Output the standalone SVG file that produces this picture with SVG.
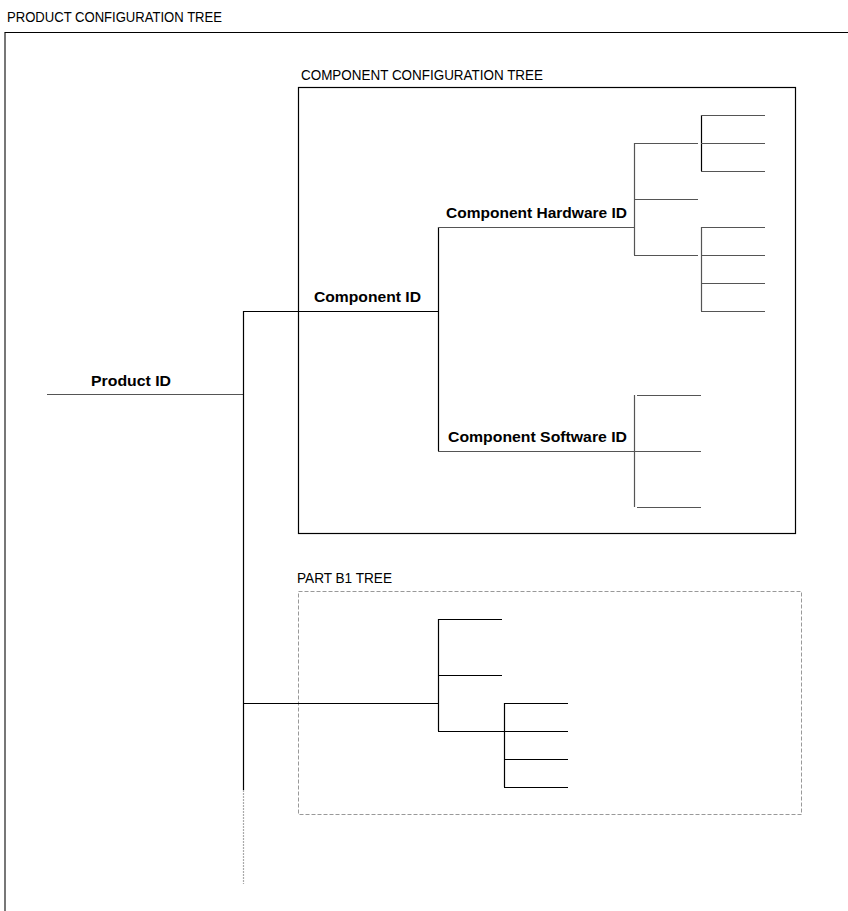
<svg xmlns="http://www.w3.org/2000/svg" width="848" height="911" viewBox="0 0 848 911">
<style>
.title{font-family:"Liberation Sans",Arial,sans-serif;font-size:15.5px;fill:#000}
.lbl{font-family:"Liberation Sans",Arial,sans-serif;font-size:15px;font-weight:bold;fill:#000}
.ln{stroke:#000;stroke-width:1.2;fill:none}
.gl{stroke:#555;stroke-width:1.2;fill:none}
</style>
<rect width="848" height="911" fill="#fff"/>
<g id="product-tree">
<text class="title" x="7" y="22" textLength="215" lengthAdjust="spacingAndGlyphs">PRODUCT CONFIGURATION TREE</text>
<path d="M5 911 V32.5 H848" stroke="#000" stroke-width="1.2" fill="none"/>
<path d="M5 33 V911" stroke="#777" stroke-width="2" fill="none"/>
</g>
<g id="component-tree">
<text class="title" x="301" y="80" textLength="242" lengthAdjust="spacingAndGlyphs">COMPONENT CONFIGURATION TREE</text>
<rect x="298.5" y="87.5" width="497" height="446" fill="none" stroke="#000" stroke-width="1.2"/>
</g>
<g id="partb1-tree">
<text class="title" x="297" y="583" textLength="95" lengthAdjust="spacingAndGlyphs">PART B1 TREE</text>
<rect x="298.5" y="591.5" width="503" height="223" fill="none" stroke="#999" stroke-width="1" stroke-dasharray="4,2"/>
</g>
<g id="product-id"><text class="lbl" x="91" y="386" textLength="80" lengthAdjust="spacingAndGlyphs">Product ID</text></g>
<g id="component-id"><text class="lbl" x="314" y="302" textLength="107" lengthAdjust="spacingAndGlyphs">Component ID</text></g>
<g id="hardware-id"><text class="lbl" x="446" y="218" textLength="181" lengthAdjust="spacingAndGlyphs">Component Hardware ID</text></g>
<g id="software-id"><text class="lbl" x="448" y="442" textLength="179" lengthAdjust="spacingAndGlyphs">Component Software ID</text></g>
<g id="connectors">
<path class="gl" d="M47 394.5 H243"/>
<path class="ln" d="M243.5 311 V790"/>
<path d="M243.5 790 V884" stroke="#aaa" stroke-width="1.2" stroke-dasharray="2,1"/>
<path class="ln" d="M243 311.5 H438"/>
<path class="ln" d="M438.5 227 V451"/>
<path class="gl" d="M438 227.5 H634"/>
<path class="gl" d="M438 451.5 H634"/>
<path class="gl" d="M634.5 143 V255"/>
<path class="gl" d="M634 143.5 H698 M634 199.5 H698 M634 255.5 H698"/>
<path class="ln" d="M701.5 115 V171"/>
<path class="gl" d="M701 115.5 H765 M701 143.5 H765 M701 171.5 H765"/>
<path class="gl" d="M701.5 227 V311"/>
<path class="gl" d="M701 227.5 H765 M701 255.5 H765 M701 283.5 H765 M701 311.5 H765"/>
<path class="gl" d="M634.5 395 V507"/>
<path class="gl" d="M637 395.5 H701 M634 451.5 H701 M637 507.5 H701"/>
<path class="ln" d="M243 703.5 H438"/>
<path class="ln" d="M438.5 619 V731"/>
<path class="ln" d="M438 619.5 H502 M438 675.5 H502 M438 731.5 H504"/>
<path class="ln" d="M504.5 703 V787"/>
<path class="ln" d="M504 703.5 H568 M504 731.5 H568 M504 759.5 H568 M504 787.5 H568"/>
</g>
</svg>
